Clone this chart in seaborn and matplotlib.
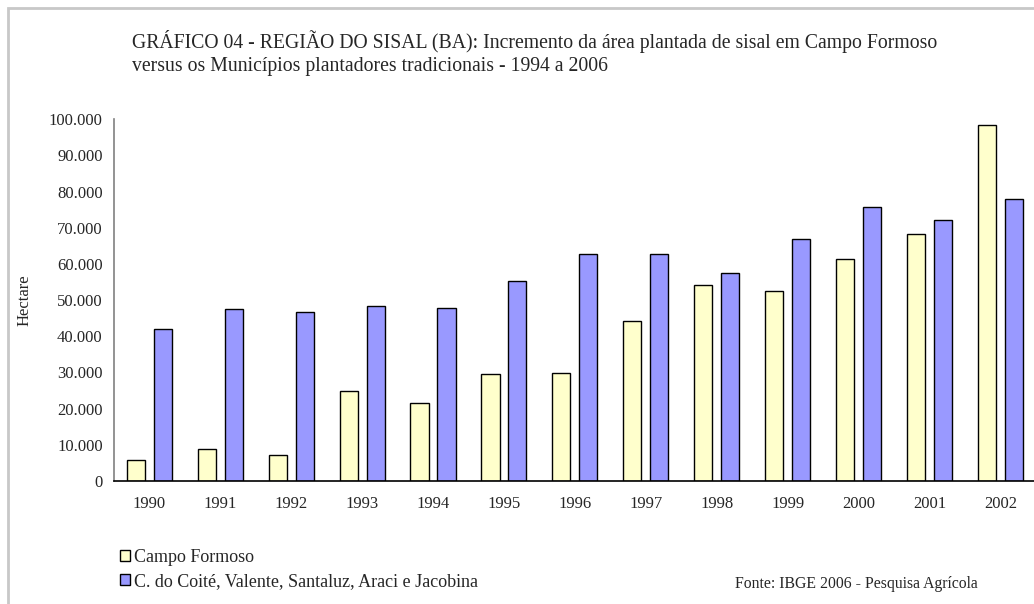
import pandas as pd
import matplotlib.pyplot as plt
import seaborn as sns
from matplotlib.patches import Rectangle
from matplotlib.ticker import FuncFormatter

# Dados
anos = ['1990', '1991', '1992', '1993', '1994', '1995', '1996',
        '1997', '1998', '1999', '2000', '2001', '2002']
campo_formoso = [5700, 8900, 7200, 24900, 21700, 29600, 29800,
                 44300, 54100, 52400, 61500, 68200, 98400]
tradicionais = [41900, 47600, 46700, 48300, 47900, 55200, 62800,
                62700, 57500, 66900, 75800, 72200, 78000]
series = ['Campo Formoso', 'C. do Coité, Valente, Santaluz, Araci e Jacobina']
cores = ['#FFFFCC', '#9999FF']

df = pd.DataFrame({
    'ano': anos * 2,
    'area': campo_formoso + tradicionais,
    'serie': [series[0]] * len(anos) + [series[1]] * len(anos),
})

sns.set_style('white')
plt.rcParams['font.family'] = ['Liberation Serif', 'DejaVu Serif']

fig = plt.figure(figsize=(10.34, 6.04), dpi=100)
ax = fig.add_axes([0.110, 0.2036, 0.892, 0.599])

sns.barplot(data=df, x='ano', y='area', hue='serie', palette=cores,
            width=0.76, gap=0.33, edgecolor='black', linewidth=1.0,
            saturation=1, ax=ax)

handles, labels = ax.get_legend_handles_labels()
ax.get_legend().remove()

ax.set_ylim(0, 100000)
ax.set_xlim(-0.5, len(anos) - 0.5)
ax.set_yticks(range(0, 100001, 10000))
ax.yaxis.set_major_formatter(FuncFormatter(lambda v, p: f'{int(v):,}'.replace(',', '.')))

# marcas entre categorias, rótulos no centro
ax.set_xticks([i - 0.5 for i in range(len(anos) + 1)])
ax.set_xticklabels([])
ax.set_xticks(range(len(anos)), minor=True)
ax.set_xticklabels(anos, minor=True)
ax.tick_params(axis='x', which='major', direction='out', length=5, width=1, color='#555555')
ax.tick_params(axis='x', which='minor', length=0, pad=11, labelsize=12)
ax.tick_params(axis='y', direction='out', length=5, width=1, color='#555555', labelsize=12, pad=3)

for s in ['top', 'right']:
    ax.spines[s].set_visible(False)
ax.spines['left'].set_color('#808080')
ax.spines['left'].set_linewidth(1.2)
ax.spines['bottom'].set_color('black')
ax.spines['bottom'].set_linewidth(1.2)

ax.set_xlabel('')
ax.set_ylabel('Hectare', fontsize=12, labelpad=12)

fig.text(132 / 1034, 1 - 53 / 604,
         'GRÁFICO 04 - REGIÃO DO SISAL (BA): Incremento da área plantada de sisal em Campo Formoso\n'
         'versus os Municípios plantadores tradicionais - 1994 a 2006',
         fontsize=14.2, va='center', ha='left', linespacing=1.3)

fig.legend(handles, labels, loc='upper left', bbox_to_anchor=(120 / 1034, 1 - 549 / 604),
           frameon=False, fontsize=13, handlelength=0.55, handleheight=0.55,
           handletextpad=0.25, labelspacing=0.4, borderpad=0, borderaxespad=0)

fig.text(735 / 1034, 1 - 584 / 604, 'Fonte: IBGE 2006 - Pesquisa Agrícola',
         fontsize=11.3, va='center', ha='left')

# moldura cinza da figura
fig.patches.append(Rectangle((8 / 1034, -0.1), 1.2, (1 - 8 / 604) + 0.1,
                             transform=fig.transFigure, fill=False,
                             edgecolor='#c8c8c8', linewidth=2, zorder=0))

plt.savefig('out.png', dpi=100)
plt.close()
